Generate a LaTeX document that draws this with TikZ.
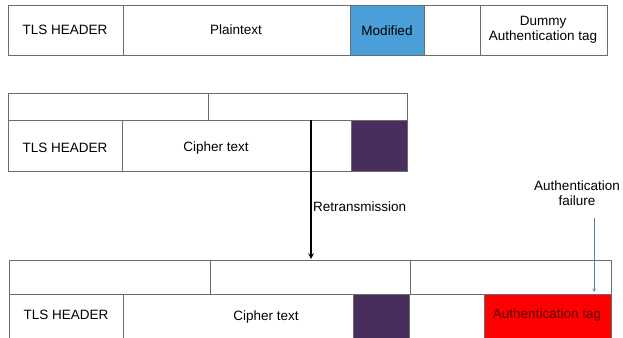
\documentclass[tikz,border=0pt]{standalone}
\usepackage{fontspec}
\setmainfont{Liberation Sans}
\definecolor{modblue}{HTML}{4A9FD8}
\definecolor{cipherpurple}{HTML}{472E5C}
\definecolor{failblue}{HTML}{5B7FA8}
\tikzset{
  box/.style={draw=gray!85!black,line width=0.8pt},
  lbl/.style={font=\fontsize{13.5}{15.5}\selectfont,inner sep=0pt}
}
\begin{document}
\begin{tikzpicture}[x=1pt,y=-1pt,>=stealth]
\useasboundingbox (0,0) rectangle (623,337);
\clip (0,0) rectangle (623,337);
% modified plaintext record
\draw[box] (8,5) rectangle (123,55);
\draw[box] (123,5) rectangle (350,55);
\draw[box,fill=modblue] (350,5) rectangle (424,55);
\draw[box] (424,5) rectangle (480,55);
\draw[box] (480,5) rectangle (607,55);
\node[lbl] (hdr1) at (65,30) {TLS HEADER};
\node[lbl] (plain) at (236,30) {Plaintext};
\node[lbl] (mod) at (387,31) {Modified};
\node[lbl,align=center] (dummy) at (543,30) {Dummy\\Authentication tag};
% first ciphertext record
\draw[box] (8,93) rectangle (208,120);
\draw[box] (208,93) rectangle (407,120);
\draw[box] (8,120) rectangle (122,171);
\draw[box] (122,120) rectangle (351,171);
\draw[box,fill=cipherpurple] (351,120) rectangle (407,171);
\node[lbl] (hdr2) at (65,148) {TLS HEADER};
\node[lbl] (ct2) at (216,148) {Cipher text};
% retransmitted record
\draw[box] (9,260) rectangle (210,294);
\draw[box] (210,260) rectangle (410,294);
\draw[box] (410,260) rectangle (611,294);
\draw[box] (9,294) rectangle (123,345);
\draw[box] (123,294) rectangle (353,345);
\draw[box,fill=cipherpurple] (353,294) rectangle (409,345);
\draw[box] (409,294) rectangle (484,345);
\draw[box,fill=red] (484,294) rectangle (611,345);
\node[lbl] (hdr3) at (66,315) {TLS HEADER};
\node[lbl] (ct3) at (266,317) {Cipher text};
\node[lbl,text=red!35!black] (tag) at (547,315) {Authentication tag};
% retransmission
\coordinate (rtop) at (311,120);
\coordinate (rbot) at (311,259);
\draw[->,line width=1.5pt] (rtop) -- (rbot);
\node[lbl,anchor=west] (retx) at (313,207) {Retransmission};
\node[lbl,align=center] (fail) at (577,193) {Authentication\\failure};
\coordinate (ftop) at (594,218);
\coordinate (fbot) at (594,292);
\draw[->,failblue,line width=0.6pt] (ftop) -- (fbot);
\end{tikzpicture}
\end{document}
